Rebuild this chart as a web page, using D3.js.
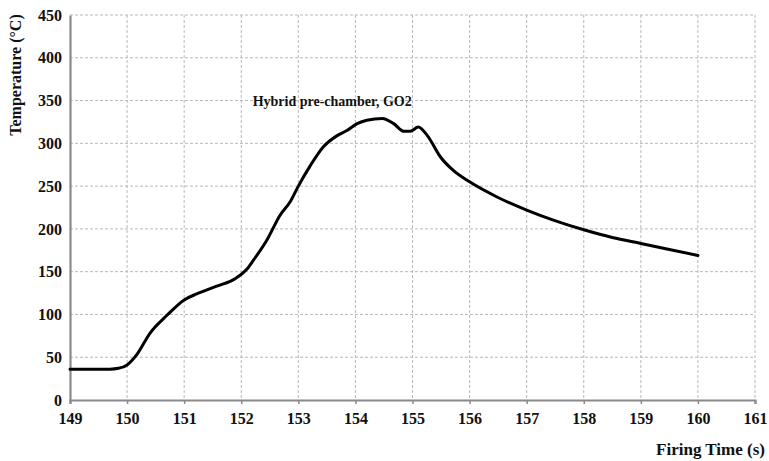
<!DOCTYPE html>
<html>
<head>
<meta charset="utf-8">
<script src="https://cdn.jsdelivr.net/npm/d3@7"></script>
<style>
  body { margin: 0; background: #fff; }
  text { font-family: "Liberation Serif", "Times New Roman", serif; font-weight: bold; }
</style>
</head>
<body>
<svg id="chart" width="769" height="461"></svg>
<script>
// firing time (s) and temperature (°C)
const timeS = [149.0, 149.4, 149.7, 149.85, 150.0, 150.17, 150.4, 150.7, 151.0, 151.22, 151.57, 151.9,
  152.1, 152.22, 152.45, 152.68, 152.86, 153.0, 153.21, 153.44, 153.68, 153.85, 154.03, 154.2,
  154.47, 154.67, 154.85, 154.96, 155.1, 155.26, 155.49, 155.72, 156.0, 156.49, 157.0, 157.48,
  158.0, 158.5, 159.0, 159.5, 160.0];
const tempC = [36, 36, 36, 37, 41, 53, 78, 99, 117, 124, 133, 142,
  153, 164, 187, 216, 232, 250, 274, 296, 309, 315, 323, 327,
  329, 323, 314, 314, 319, 309, 284, 268, 255, 237, 222, 210,
  199, 190, 183, 176, 169];
const xTicks = d3.range(149, 162, 1);
const yTicks = d3.range(0, 451, 50);
const seriesLabel = "Hybrid pre-chamber, GO2";

const margin = { top: 15, right: 14, bottom: 61, left: 70 };
const width = 769 - margin.left - margin.right;
const height = 461 - margin.top - margin.bottom;

const svg = d3.select("#chart");
const g = svg.append("g").attr("transform", `translate(${margin.left},${margin.top})`);

const x = d3.scaleLinear().domain([149, 161]).range([0, width]);
const y = d3.scaleLinear().domain([0, 450]).range([height, 0]);

// grid
g.append("g")
  .selectAll("line.h")
  .data(yTicks.filter(d => d > 0))
  .join("line")
  .attr("x1", 0).attr("x2", width)
  .attr("y1", d => y(d)).attr("y2", d => y(d))
  .attr("stroke", "#b8b8b8").attr("stroke-width", 1).attr("stroke-dasharray", "3,2");

g.append("g")
  .selectAll("line.v")
  .data(xTicks.filter(d => d > 149))
  .join("line")
  .attr("x1", d => x(d)).attr("x2", d => x(d))
  .attr("y1", 0).attr("y2", height)
  .attr("stroke", "#b8b8b8").attr("stroke-width", 1).attr("stroke-dasharray", "3,2");

// axes
const xAxis = g.append("g")
  .attr("transform", `translate(0,${height})`)
  .call(d3.axisBottom(x).tickValues(xTicks).tickFormat(d3.format("d")).tickSize(4).tickPadding(9));
const yAxis = g.append("g")
  .call(d3.axisLeft(y).tickValues(yTicks).tickSize(0).tickPadding(8));

[xAxis, yAxis].forEach(a => {
  a.select(".domain").attr("stroke", "#8a8a8a").attr("stroke-width", 2.2);
  a.selectAll(".tick line").attr("stroke", "#8a8a8a").attr("stroke-width", 1.5);
  a.selectAll("text").attr("fill", "#111").style("font-size", "16px")
    .style("font-family", "'Liberation Serif', serif").style("font-weight", "bold");
});

// curve
const line = d3.line()
  .x((d, i) => x(timeS[i]))
  .y(d => y(d))
  .curve(d3.curveMonotoneX);

g.append("path")
  .datum(tempC)
  .attr("d", line)
  .attr("fill", "none")
  .attr("stroke", "#000")
  .attr("stroke-width", 3)
  .attr("stroke-linejoin", "round")
  .attr("stroke-linecap", "round");

// labels
g.append("text")
  .attr("x", x(152.2)).attr("y", y(344))
  .style("font-size", "14px")
  .attr("fill", "#111")
  .text(seriesLabel);

svg.append("text")
  .attr("transform", "translate(21,75) rotate(-90)")
  .attr("text-anchor", "middle")
  .style("font-size", "16px")
  .attr("fill", "#111")
  .text("Temperature (°C)");

svg.append("text")
  .attr("x", 765).attr("y", 455)
  .attr("text-anchor", "end")
  .style("font-size", "17px")
  .attr("fill", "#111")
  .text("Firing Time (s)");
</script>
</body>
</html>
